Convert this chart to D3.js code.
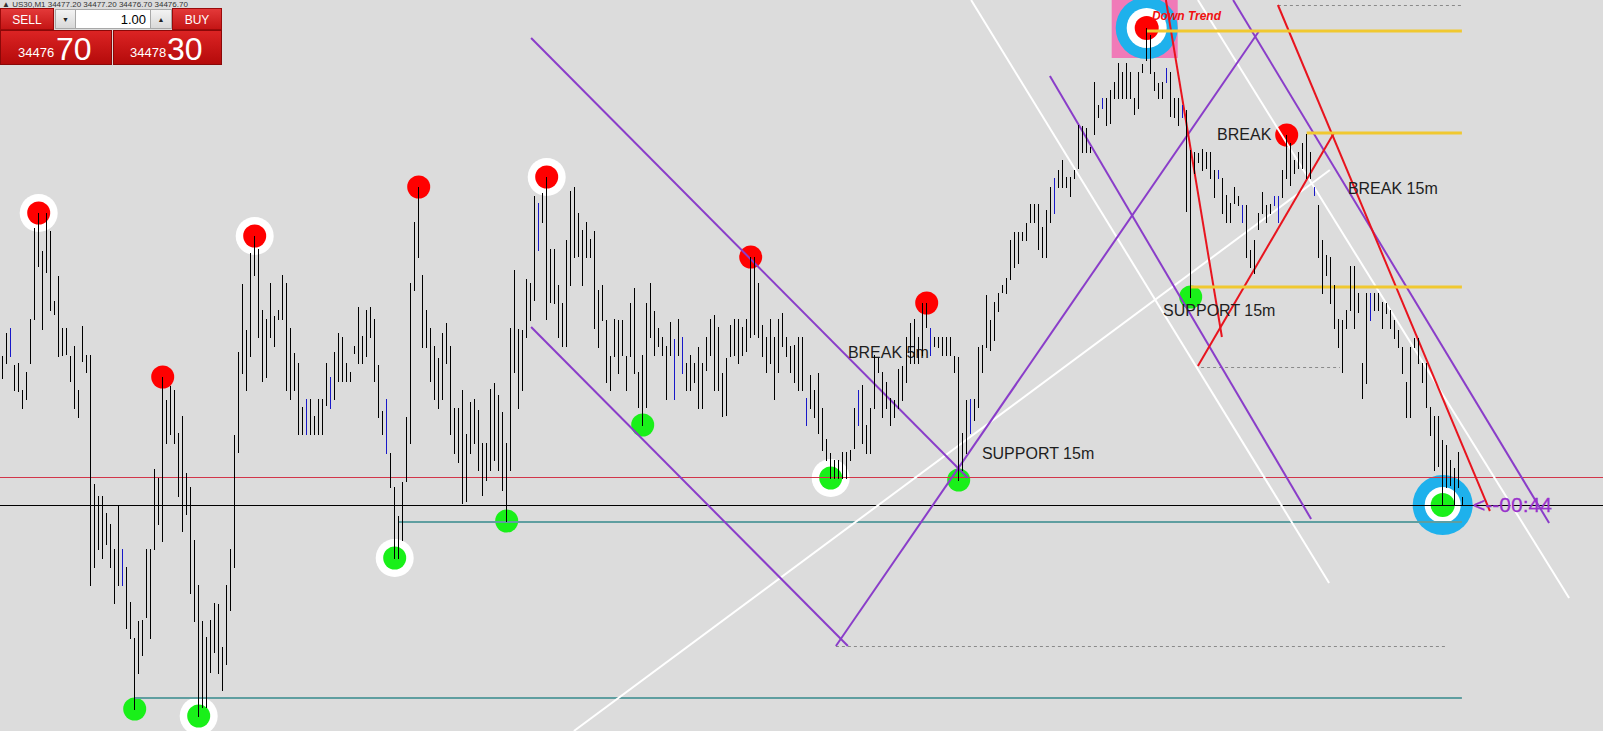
<!DOCTYPE html>
<html>
<head>
<meta charset="utf-8">
<script src="https://d3js.org/d3.v7.min.js"></script>
<style>
  html, body { margin: 0; padding: 0; background: #dcdcdc; overflow: hidden; }
  #container svg { display: block; }
  .lbl { font-family: "Liberation Sans", Arial, sans-serif; font-size: 16px; fill: #1e1e1e; }
  .pnl { font-family: "Liberation Sans", Arial, sans-serif; }
</style>
</head>
<body>
<div id="container"></div>
<script>
const W = 1603, H = 731;

// quote panel
const symbol = "US30,M1";
const headerQuotes = ["34477.20", "34477.20", "34476.70", "34476.70"];
const bidPrice = 34476.70;
const askPrice = 34478.30;
const lotSize = "1.00";

// M1 bars: highs and lows
const highs = [
  34491.6,34493.9,34494.4,34490.7,34490.9,34488.2,34490.0,34495.3,34504.4,34505.9,
  34502.1,34505.9,34504.1,34497.1,34499.6,34494.4,34494.4,34491.6,34492.6,34488.2,
  34494.6,34491.7,34491.7,34478.8,34477.6,34477.6,34475.9,34474.8,34472.3,34476.7,
  34472.3,34470.5,34467.0,34463.4,34465.1,34465.2,34472.3,34472.3,34480.3,34479.4,
  34489.5,34487.2,34488.6,34488.2,34483.9,34485.6,34479.9,34478.5,34473.2,34468.7,
  34465.1,34463.5,34465.2,34466.9,34466.8,34462.5,34468.7,34472.3,34483.7,34492.0,
  34498.8,34494.2,34501.9,34503.6,34502.3,34496.2,34495.3,34498.9,34495.6,34496.2,
  34499.7,34498.9,34494.4,34491.9,34490.9,34486.5,34487.3,34487.3,34485.6,34487.3,
  34487.3,34490.9,34489.5,34492.0,34493.9,34493.5,34490.9,34490.0,34492.6,34496.5,
  34493.6,34496.2,34496.5,34495.3,34490.7,34486.1,34487.3,34481.9,34478.5,34475.6,
  34479.0,34485.5,34498.9,34505.0,34508.5,34499.7,34496.2,34494.4,34492.6,34491.4,
  34493.9,34494.9,34492.6,34486.4,34486.4,34488.2,34483.8,34487.0,34487.3,34486.2,
  34482.9,34482.9,34488.3,34488.9,34487.7,34486.0,34482.9,34494.4,34500.2,34494.3,
  34494.2,34499.3,34498.9,34507.6,34506.9,34507.9,34509.5,34502.3,34502.3,34498.7,
  34496.9,34503.2,34508.1,34508.5,34505.9,34504.2,34505.0,34503.3,34504.1,34498.2,
  34498.7,34495.2,34491.6,34495.3,34495.2,34495.2,34491.6,34496.9,34498.4,34490.0,
  34491.7,34496.9,34498.9,34496.1,34494.4,34493.5,34492.6,34495.0,34493.3,34495.3,
  34493.5,34490.9,34491.7,34490.9,34492.5,34490.9,34493.5,34495.3,34495.7,34494.5,
  34489.9,34491.4,34494.7,34495.3,34495.3,34494.5,34495.3,34501.5,34501.5,34498.9,
  34494.7,34493.5,34495.3,34493.5,34495.3,34495.9,34493.5,34492.6,34492.7,34493.5,
  34493.5,34487.4,34489.7,34488.2,34489.9,34486.4,34483.3,34481.9,34481.2,34481.2,
  34482.0,34482.0,34482.2,34486.4,34488.2,34488.7,34484.7,34486.4,34491.7,34491.4,
  34490.0,34489.0,34487.4,34487.2,34490.3,34490.6,34493.5,34494.9,34495.3,34493.5,
  34496.9,34496.9,34494.4,34493.5,34493.5,34493.5,34493.5,34493.5,34491.6,34491.5,
  34483.9,34487.2,34487.3,34487.3,34492.5,34492.7,34497.7,34495.2,34497.0,34497.9,
  34498.7,34499.4,34503.2,34504.0,34504.0,34504.0,34504.9,34506.8,34506.8,34506.8,
  34504.5,34506.2,34508.5,34509.4,34510.2,34511.2,34509.5,34509.5,34510.2,34514.7,
  34514.6,34514.4,34512.5,34519.0,34516.7,34517.4,34517.4,34518.2,34519.0,34520.9,
  34520.0,34520.9,34520.0,34517.4,34520.0,34520.8,34524.4,34523.7,34520.0,34518.9,
  34519.0,34520.4,34520.0,34517.4,34517.4,34516.7,34516.2,34512.2,34512.0,34511.9,
  34512.3,34512.0,34512.0,34510.2,34510.2,34509.4,34507.7,34506.9,34508.5,34507.6,
  34506.7,34506.7,34502.2,34503.2,34505.9,34508.0,34506.7,34506.8,34507.6,34507.6,
  34510.2,34513.7,34512.9,34511.2,34512.0,34512.9,34513.8,34512.0,34508.5,34506.7,
  34503.2,34501.7,34501.5,34498.7,34495.3,34495.2,34496.2,34500.6,34500.6,34497.9,
  34490.9,34497.9,34497.9,34497.9,34497.9,34497.0,34496.9,34496.2,34495.2,34494.2,
  34492.5,34489.0,34492.5,34493.4,34493.4,34490.9,34490.9,34486.5,34485.6,34485.6,
  34483.2,34482.7,34481.2,34480.4,34482.0,34477.5
];
const lows = [
  34489.4,34490.9,34491.6,34488.2,34488.1,34486.4,34487.3,34490.9,34495.3,34500.6,
  34494.3,34500.0,34496.2,34495.8,34491.6,34491.7,34491.8,34489.1,34486.4,34485.5,
  34491.1,34490.0,34468.7,34470.5,34472.3,34471.4,34472.8,34470.5,34466.9,34468.7,
  34468.7,34464.4,34463.4,34456.3,34459.9,34461.7,34465.5,34463.4,34472.3,34474.8,
  34473.1,34482.9,34483.8,34482.9,34477.6,34474.1,34475.8,34467.9,34465.1,34455.6,
  34456.5,34456.5,34460.0,34462.0,34459.9,34458.2,34460.8,34466.2,34470.5,34482.0,
  34489.9,34488.2,34491.6,34499.7,34493.5,34489.1,34489.5,34493.5,34492.6,34495.3,
  34495.3,34488.2,34487.3,34488.2,34483.8,34483.8,34483.8,34483.8,34483.8,34483.8,
  34483.8,34486.7,34486.4,34487.3,34489.1,34489.1,34489.1,34489.1,34491.9,34490.9,
  34490.9,34491.6,34493.5,34489.1,34485.5,34483.8,34481.9,34478.5,34471.4,34471.4,
  34473.2,34479.1,34482.9,34498.2,34501.5,34492.5,34492.5,34489.1,34487.3,34486.4,
  34487.3,34490.9,34483.8,34481.9,34481.0,34476.9,34477.1,34481.9,34482.9,34480.2,
  34477.7,34479.2,34480.2,34481.2,34480.2,34478.2,34475.1,34480.2,34490.0,34486.4,
  34488.2,34493.5,34495.2,34497.2,34502.2,34505.0,34495.3,34497.0,34496.9,34493.5,
  34492.6,34492.6,34498.7,34501.5,34501.6,34498.7,34501.5,34501.5,34494.4,34492.5,
  34495.2,34489.0,34488.2,34491.6,34489.9,34491.7,34488.2,34491.6,34489.9,34486.5,
  34484.7,34486.5,34493.5,34491.7,34492.6,34491.7,34487.3,34491.7,34487.3,34491.7,
  34489.9,34488.2,34488.2,34489.0,34486.4,34486.4,34490.2,34491.7,34488.2,34488.2,
  34485.6,34485.7,34491.6,34491.7,34490.9,34491.7,34492.1,34493.5,34493.8,34493.5,
  34491.6,34490.0,34490.9,34487.3,34490.0,34492.6,34491.6,34490.0,34489.0,34488.2,
  34488.2,34484.7,34486.4,34485.5,34483.9,34482.2,34481.2,34479.4,34479.4,34479.4,
  34479.4,34479.4,34481.2,34482.4,34484.7,34482.9,34481.9,34481.9,34486.4,34490.0,
  34485.5,34486.4,34484.7,34485.5,34486.4,34487.2,34489.0,34490.9,34490.9,34490.9,
  34491.7,34494.5,34491.7,34492.6,34492.5,34491.7,34491.7,34491.7,34490.0,34479.2,
  34480.2,34481.9,34483.9,34485.2,34486.5,34490.0,34492.5,34492.2,34493.2,34496.1,
  34498.0,34497.9,34499.3,34500.5,34500.9,34503.2,34503.2,34505.0,34505.0,34502.3,
  34501.5,34501.5,34505.0,34505.9,34508.5,34508.5,34508.5,34507.6,34509.4,34510.4,
  34512.0,34512.0,34512.0,34513.8,34515.5,34516.4,34514.7,34514.9,34517.4,34517.4,
  34517.4,34517.4,34517.4,34515.8,34516.4,34520.0,34521.2,34519.9,34518.2,34517.4,
  34517.4,34519.0,34515.6,34515.5,34514.7,34515.5,34506.1,34497.5,34509.9,34511.0,
  34510.2,34510.4,34509.4,34507.5,34509.4,34505.9,34505.0,34505.0,34506.9,34506.7,
  34505.0,34501.5,34500.5,34499.9,34504.3,34505.9,34505.0,34505.9,34506.7,34505.0,
  34507.5,34509.4,34508.7,34509.9,34510.4,34510.4,34509.4,34509.4,34507.7,34501.5,
  34497.9,34499.7,34496.9,34494.4,34492.5,34490.0,34494.4,34496.2,34494.4,34496.0,
  34487.4,34488.9,34495.2,34496.2,34496.2,34494.4,34495.9,34494.4,34493.4,34492.5,
  34489.9,34485.5,34485.5,34492.5,34490.9,34489.0,34486.5,34483.7,34480.2,34480.6,
  34476.7,34478.5,34478.7,34476.7,34478.5,34476.7
];
const blueBars = [2, 30, 76, 82, 96, 134, 168, 170, 201, 214, 232, 242, 263, 275, 291, 295, 304, 310, 318, 319, 328, 342];

// swing markers (bar index)
const peakBars = [9, 40, 63, 104, 136, 187, 231, 321];
const peakRinged = [9, 63, 136];
const troughBars = [33, 49, 98, 126, 160, 207, 239, 297];
const troughRinged = [49, 98, 207];
const topTarget = 286;
const bottomTarget = 360;

// trend lines: [bar1, price1, bar2, price2]
const purpleLines = [
  [132.1, 34523.4, 241.3, 34479.4],
  [132.1, 34494.5, 211.3, 34462.6],
  [208.3, 34462.6, 314.1, 34524.1],
  [261.8, 34519.6, 327.1, 34475.3],
  [307.6, 34527.2, 386.6, 34474.9]
];
const whiteLines = [
  [142.8, 34454.1, 331.8, 34510.2],
  [242.1, 34527.2, 331.6, 34468.9],
  [298.8, 34527.2, 391.6, 34467.4]
];
const redLines = [
  [290.8, 34527.2, 304.8, 34493.5],
  [298.8, 34490.6, 332.8, 34513.9],
  [318.8, 34526.7, 371.8, 34476.1]
];

// horizontal levels
const redLevel = 34479.5;
const levelEnd = 364.8;
const goldLevels = [[286, 34524.1], [326, 34513.9], [297, 34498.5]];
const tealLevels = [[99, 34475.0], [33, 34457.4]];
const dashedLevels = [[208.3, 361, 34462.6], [299.6, 334.3, 34490.5], [318.8, 364.8, 34526.7]];

// text labels: [text, bar, price]
const labels = [
  ["BREAK 5m", 211.3, 34491.4],
  ["SUPPORT 15m", 244.8, 34481.3],
  ["SUPPORT 15m", 290.1, 34495.6],
  ["BREAK", 303.6, 34513.2],
  ["BREAK 15m", 336.3, 34507.8]
];
const trendLabel = ["Down Trend", 287.3, 34525.2];
const timerLabel = "<--00:44";
const timerBar = 367.6;

// scales
const x = d3.scaleLinear().domain([0, 400]).range([2.7, 1602.7]);
const y = d3.scaleLinear().domain([34454.1, 34527.2]).range([H, 0]);

const svg = d3.select("#container").append("svg")
  .attr("width", W).attr("height", H);

svg.append("rect").attr("width", W).attr("height", H).attr("fill", "#dcdcdc");

const defs = svg.append("defs");
function grad(id, top, bottom) {
  const g = defs.append("linearGradient").attr("id", id)
    .attr("x1", 0).attr("y1", 0).attr("x2", 0).attr("y2", 1);
  g.append("stop").attr("offset", "0%").attr("stop-color", top);
  g.append("stop").attr("offset", "100%").attr("stop-color", bottom);
}
grad("btnRed", "#e43a3a", "#c41414");
grad("cellRed", "#dc2424", "#b40a0a");
grad("spinGrey", "#f4f4f4", "#d8d8d8");

// top target box
const tx = x(topTarget), ty = y(highs[topTarget]);
svg.append("rect").attr("x", tx - 35).attr("y", ty - 30).attr("width", 66).attr("height", 60)
  .attr("fill", "#f07ab8");
svg.append("circle").attr("cx", tx).attr("cy", ty).attr("r", 31).attr("fill", "#1eb1ec");
svg.append("circle").attr("cx", tx).attr("cy", ty).attr("r", 20).attr("fill", "#ffffff");
svg.append("circle").attr("cx", tx).attr("cy", ty).attr("r", 12).attr("fill", "#ff0000");

// bottom target
const bx = x(bottomTarget), by = y(lows[bottomTarget]);
svg.append("circle").attr("cx", bx).attr("cy", by).attr("r", 30).attr("fill", "#1eb1ec");
svg.append("circle").attr("cx", bx).attr("cy", by).attr("r", 18).attr("fill", "#ffffff");
svg.append("circle").attr("cx", bx).attr("cy", by).attr("r", 12).attr("fill", "#19f019");

// swing dots
const dots = svg.append("g");
dots.append("g").selectAll("circle").data(peakRinged).join("circle")
  .attr("cx", d => x(d)).attr("cy", d => y(highs[d])).attr("r", 19).attr("fill", "#ffffff");
dots.append("g").selectAll("circle").data(troughRinged).join("circle")
  .attr("cx", d => x(d)).attr("cy", d => y(lows[d])).attr("r", 19).attr("fill", "#ffffff");
dots.append("g").selectAll("circle").data(peakBars).join("circle")
  .attr("cx", d => x(d)).attr("cy", d => y(highs[d])).attr("r", 11.5).attr("fill", "#ff0000");
dots.append("g").selectAll("circle").data(troughBars).join("circle")
  .attr("cx", d => x(d)).attr("cy", d => y(lows[d])).attr("r", 11.5).attr("fill", "#19f019");

// horizontal levels
const lv = svg.append("g");
lv.append("line").attr("x1", 0).attr("x2", W).attr("y1", y(redLevel) + 0.5).attr("y2", y(redLevel) + 0.5)
  .attr("stroke", "#d2364a").attr("stroke-width", 1);
lv.append("line").attr("x1", 0).attr("x2", W).attr("y1", y(bidPrice) + 0.5).attr("y2", y(bidPrice) + 0.5)
  .attr("stroke", "#000").attr("stroke-width", 1);
lv.append("g").selectAll("line").data(tealLevels).join("line")
  .attr("x1", d => x(d[0])).attr("x2", x(levelEnd))
  .attr("y1", d => y(d[1])).attr("y2", d => y(d[1]))
  .attr("stroke", "#5f9ea0").attr("stroke-width", 2);
lv.append("g").selectAll("line").data(dashedLevels).join("line")
  .attr("x1", d => x(d[0])).attr("x2", d => x(d[1]))
  .attr("y1", d => y(d[2]) + 0.5).attr("y2", d => y(d[2]) + 0.5)
  .attr("stroke", "#8a8a8a").attr("stroke-width", 1).attr("stroke-dasharray", "3,3");

// trend lines
function segs(data, color, w) {
  svg.append("g").selectAll("line").data(data).join("line")
    .attr("x1", d => x(d[0])).attr("y1", d => y(d[1]))
    .attr("x2", d => x(d[2])).attr("y2", d => y(d[3]))
    .attr("stroke", color).attr("stroke-width", w);
}
segs(whiteLines, "#ffffff", 2);
segs(purpleLines, "#8a3dc9", 2);
segs(redLines, "#e8141e", 2);

// gold levels
svg.append("g").selectAll("line").data(goldLevels).join("line")
  .attr("x1", d => x(d[0])).attr("x2", x(levelEnd))
  .attr("y1", d => y(d[1])).attr("y2", d => y(d[1]))
  .attr("stroke", "#f0c830").attr("stroke-width", 3);

// labels
svg.append("g").selectAll("text").data(labels).join("text")
  .attr("class", "lbl")
  .attr("x", d => x(d[1])).attr("y", d => y(d[2]))
  .text(d => d[0]);

// bars
svg.append("g").attr("shape-rendering", "crispEdges")
  .selectAll("line").data(highs).join("line")
  .attr("x1", (d, i) => x(i)).attr("x2", (d, i) => x(i))
  .attr("y1", d => y(d)).attr("y2", (d, i) => y(lows[i]) + 1)
  .attr("stroke", (d, i) => blueBars.includes(i) ? "#1818c8" : "#000")
  .attr("stroke-width", 1.2);

// trend label + timer
svg.append("text")
  .attr("x", x(trendLabel[1])).attr("y", y(trendLabel[2]))
  .style("font", "italic bold 12px 'Liberation Sans', Arial, sans-serif")
  .attr("fill", "#f01010").text(trendLabel[0]);
svg.append("text")
  .attr("x", x(timerBar)).attr("y", y(bidPrice) + 7)
  .style("font", "21px 'Liberation Sans', Arial, sans-serif")
  .attr("fill", "#9932cc").attr("stroke", "#9932cc").attr("stroke-width", 0.3)
  .text(timerLabel);

// one-click trading panel
const p = svg.append("g").attr("class", "pnl");
p.append("text").attr("x", 2).attr("y", 7).attr("fill", "#333")
  .style("font-size", "8px").text("\u25B2 " + symbol + "  " + headerQuotes.join(" "));

const bidTxt = bidPrice.toFixed(2).split("."), askTxt = askPrice.toFixed(2).split(".");

p.append("rect").attr("x", 0.5).attr("y", 8.5).attr("width", 53).attr("height", 21)
  .attr("fill", "url(#btnRed)").attr("stroke", "#9a0a0a");
p.append("text").attr("x", 27).attr("y", 24).attr("text-anchor", "middle").attr("fill", "#fff")
  .style("font-size", "12px").text("SELL");
p.append("rect").attr("x", 172.5).attr("y", 8.5).attr("width", 49).attr("height", 21)
  .attr("fill", "url(#btnRed)").attr("stroke", "#9a0a0a");
p.append("text").attr("x", 197).attr("y", 24).attr("text-anchor", "middle").attr("fill", "#fff")
  .style("font-size", "12px").text("BUY");

p.append("rect").attr("x", 55.5).attr("y", 9.5).attr("width", 20).attr("height", 19)
  .attr("fill", "url(#spinGrey)").attr("stroke", "#a8a8a8");
p.append("text").attr("x", 65.5).attr("y", 22).attr("text-anchor", "middle").attr("fill", "#222")
  .style("font-size", "7px").text("\u25BC");
p.append("rect").attr("x", 75.5).attr("y", 9.5).attr("width", 75).attr("height", 19)
  .attr("fill", "#fff").attr("stroke", "#a8a8a8");
p.append("text").attr("x", 146).attr("y", 24).attr("text-anchor", "end").attr("fill", "#000")
  .style("font-size", "13px").text(lotSize);
p.append("rect").attr("x", 150.5).attr("y", 9.5).attr("width", 21).attr("height", 19)
  .attr("fill", "url(#spinGrey)").attr("stroke", "#a8a8a8");
p.append("text").attr("x", 161).attr("y", 22).attr("text-anchor", "middle").attr("fill", "#222")
  .style("font-size", "7px").text("\u25B2");

p.append("rect").attr("x", 0.5).attr("y", 30.5).attr("width", 111).attr("height", 34)
  .attr("fill", "url(#cellRed)").attr("stroke", "#8a0808");
p.append("rect").attr("x", 113.5).attr("y", 30.5).attr("width", 108).attr("height", 34)
  .attr("fill", "url(#cellRed)").attr("stroke", "#8a0808");
p.append("text").attr("x", 18).attr("y", 57).attr("fill", "#fff")
  .style("font-size", "13px").text(bidTxt[0]);
p.append("text").attr("x", 56).attr("y", 60).attr("fill", "#fff")
  .style("font", "32px 'Liberation Sans', sans-serif").text(bidTxt[1]);
p.append("text").attr("x", 130).attr("y", 57).attr("fill", "#fff")
  .style("font-size", "13px").text(askTxt[0]);
p.append("text").attr("x", 167).attr("y", 60).attr("fill", "#fff")
  .style("font", "32px 'Liberation Sans', sans-serif").text(askTxt[1]);
</script>
</body>
</html>
